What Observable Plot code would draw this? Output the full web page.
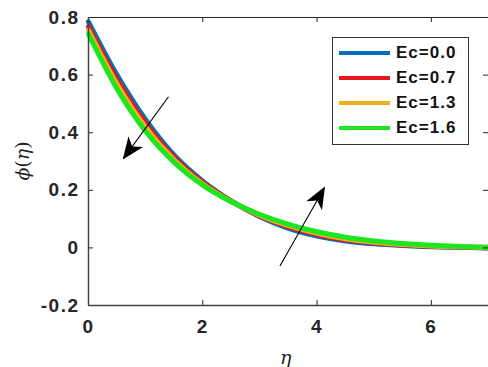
<!DOCTYPE html>
<html>
<head>
<meta charset="utf-8">
<script src="https://cdn.jsdelivr.net/npm/d3@7"></script>
<script src="https://cdn.jsdelivr.net/npm/@observablehq/plot@0.6"></script>
<style>
  body { margin: 0; background: #fff; }
  #wrap { position: relative; width: 488px; height: 367px; overflow: hidden; font-family: "Liberation Sans", Arial, sans-serif; }
  #wrap svg text { letter-spacing: 1.5px; }
  #legend { position: absolute; border: 1px solid #333; background: #fff; box-sizing: border-box; }
  .row { position: absolute; display: flex; align-items: center; }
  .sw { width: 51px; height: 4px; }
  .lab { font-weight: bold; font-size: 17px; color: #111; margin-left: 6px; letter-spacing: 1px; }
  .axlab { position: absolute; font-family: "DejaVu Serif", "Liberation Serif", serif; font-size: 19px; color: #222; }
</style>
</head>
<body>
<div id="wrap"></div>
<script>
// ---- data ----
const eta = [0, 0.5, 1, 1.5, 2, 2.5, 3, 3.5, 4, 4.5, 5, 5.5, 6, 6.5, 7];
const ecLabels = ["Ec=0.0", "Ec=0.7", "Ec=1.3", "Ec=1.6"];
const phiEc00 = [0.785, 0.600, 0.445, 0.322, 0.232, 0.163, 0.108, 0.068, 0.041, 0.024, 0.014, 0.008, 0.004, 0.002, 0.000];
const phiEc07 = [0.768, 0.584, 0.432, 0.313, 0.227, 0.162, 0.111, 0.073, 0.046, 0.028, 0.017, 0.010, 0.006, 0.003, 0.000];
const phiEc13 = [0.755, 0.568, 0.418, 0.305, 0.222, 0.161, 0.113, 0.077, 0.051, 0.032, 0.020, 0.012, 0.007, 0.004, 0.001];
const phiEc16 = [0.742, 0.552, 0.405, 0.297, 0.218, 0.160, 0.116, 0.082, 0.056, 0.037, 0.024, 0.015, 0.009, 0.005, 0.002];
const seriesColors = ["#0072BD", "#E3171D", "#EDB120", "#1EE61E"];
const xTicks = [0, 2, 4, 6];
const yTicks = [-0.2, 0, 0.2, 0.4, 0.6, 0.8];
// annotation arrows (data coordinates): tail -> head
const arrowX1 = [1.40, 3.35];
const arrowY1 = [0.525, -0.063];
const arrowX2 = [0.61, 4.13];
const arrowY2 = [0.31, 0.21];

const allSeries = [phiEc00, phiEc07, phiEc13, phiEc16];
const data = allSeries.flatMap((vals, i) => eta.map((e, j) => ({eta: e, phi: vals[j], series: ecLabels[i]})));
const arrows = arrowX1.map((x, i) => ({x1: x, y1: arrowY1[i], x2: arrowX2[i], y2: arrowY2[i]}));

const W = 488, H = 367, mL = 88, mR = 0, mT = 17, mB = 62;
const xDom = [0, 7], yDom = [-0.2, 0.8];
const tx = 5 * (xDom[1] - xDom[0]) / (W - mL - mR);
const ty = 5 * (yDom[1] - yDom[0]) / (H - mT - mB);
const axisColor = "#262626";

const plot = Plot.plot({
  width: W, height: H,
  marginLeft: mL, marginRight: mR, marginTop: mT, marginBottom: mB,
  style: {fontFamily: "'Liberation Sans', Arial, sans-serif", background: "#fff"},
  x: {domain: xDom, ticks: xTicks, label: null},
  y: {domain: yDom, ticks: yTicks, label: null},
  color: {domain: ecLabels, range: seriesColors},
  marks: [
    Plot.axisX(xTicks, {tickSize: 0, tickPadding: 14, fontSize: 19, fontWeight: "bold", fill: axisColor, label: null}),
    Plot.axisY(yTicks, {tickSize: 0, tickPadding: 9, fontSize: 19, fontWeight: "bold", fill: axisColor, label: null, tickFormat: d => d === 0 ? "0" : d.toFixed(1)}),
    Plot.line(data, {x: "eta", y: "phi", z: "series", stroke: "series", strokeWidth: 5, curve: "monotone-x"}),
    // inward ticks on all four sides
    Plot.ruleX(xTicks, {x: d => d, y1: yDom[0], y2: yDom[0] + ty, stroke: axisColor}),
    Plot.ruleX(xTicks, {x: d => d, y1: yDom[1], y2: yDom[1] - ty, stroke: axisColor}),
    Plot.ruleY(yTicks, {y: d => d, x1: xDom[0], x2: xDom[0] + tx, stroke: axisColor}),
    Plot.ruleY(yTicks, {y: d => d, x1: xDom[1], x2: xDom[1] - tx, stroke: axisColor}),
    Plot.frame({stroke: axisColor, strokeWidth: 1}),
    Plot.ruleX([xDom[0]], {stroke: "#444", strokeWidth: 1.5}),
    Plot.ruleY([yDom[0]], {stroke: "#444", strokeWidth: 1.5}),
    Plot.link(arrows, {x1: "x1", y1: "y1", x2: "x2", y2: "y2", stroke: "#000", strokeWidth: 1.1})
  ]
});

// filled "stealth" arrowheads on the annotation links
const svg = d3.select(plot);
const defs = svg.insert("defs", ":first-child");
defs.append("marker")
  .attr("id", "stealth").attr("markerUnits", "userSpaceOnUse")
  .attr("viewBox", "-24 -12 26 24").attr("markerWidth", 26).attr("markerHeight", 24)
  .attr("refX", 0).attr("refY", 0).attr("orient", "auto")
  .append("path").attr("d", "M1,0 L-21,-9 L-15,0 L-21,9 Z").attr("fill", "#000");
svg.selectAll('g[aria-label="link"] path, g[aria-label="link"] line').attr("marker-end", "url(#stealth)");

const wrap = document.getElementById("wrap");
wrap.appendChild(plot);

// legend (inside plot area, top-right)
const legend = document.createElement("div");
legend.id = "legend";
Object.assign(legend.style, {left: "332px", top: "37px", width: "137px", height: "108px"});
ecLabels.forEach((lab, i) => {
  const row = document.createElement("div");
  row.className = "row";
  row.style.left = "6px";
  row.style.top = (5 + i * 25) + "px";
  row.style.height = "20px";
  const sw = document.createElement("div");
  sw.className = "sw";
  sw.style.background = seriesColors[i];
  const t = document.createElement("span");
  t.className = "lab";
  t.textContent = lab;
  row.appendChild(sw); row.appendChild(t);
  legend.appendChild(row);
});
wrap.appendChild(legend);

// axis titles
const yl = document.createElement("div");
yl.className = "axlab";
yl.innerHTML = '<i>ϕ</i>(<i>η</i>)';
Object.assign(yl.style, {left: "0px", top: "150px", width: "44px", textAlign: "center", transform: "rotate(-90deg)", transformOrigin: "22px 11px"});
wrap.appendChild(yl);

const xl = document.createElement("div");
xl.className = "axlab";
xl.innerHTML = '<i>η</i>';
Object.assign(xl.style, {left: "280px", top: "346px"});
wrap.appendChild(xl);
</script>
</body>
</html>
